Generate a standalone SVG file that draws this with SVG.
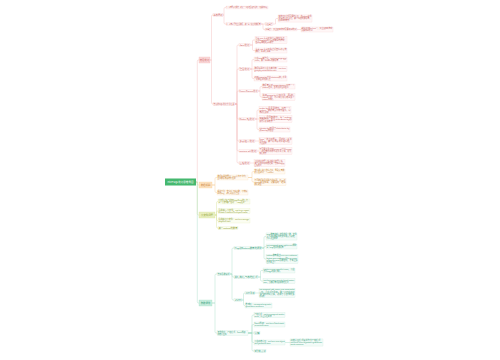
<svg xmlns="http://www.w3.org/2000/svg" width="500" height="360" viewBox="0 0 500 360">
<style>
text{font-family:"Noto Sans CJK SC","Noto Sans",sans-serif;font-size:1.8px}
.p rect{fill:#fff7f7;stroke:#f5cccc;stroke-width:.25}
.p text{fill:#c9605c}
.o rect{fill:#fffaf2;stroke:#f8dcb5;stroke-width:.25}
.o text{fill:#c98233}
.y rect{fill:#fbfdf1;stroke:#e2e9b8;stroke-width:.25}
.y text{fill:#8d9b2c}
.g rect{fill:#f3fbf8;stroke:#c2e8d8;stroke-width:.25}
.g text{fill:#34a07a}
.l1 text{font-size:2.4px;text-anchor:middle}
#n-p1 rect{fill:#fbd9d9;stroke:#efa9a9}
#n-o1 rect{fill:#fde3c2;stroke:#f4c27f}
#n-y1 rect{fill:#e9efc0;stroke:#cfd98a}
#n-g1 rect{fill:#c9eedf;stroke:#8fd3b7}
#root rect{fill:#45b86f}
#root text{fill:#fff;font-size:2.6px;text-anchor:middle}
.c path{fill:none;stroke-width:.4}
.c .cp{stroke:#f2b5b5}
.c .co{stroke:#f5c890}
.c .cy{stroke:#d5df93}
.c .cg{stroke:#9fd9c2}
</style>
<rect width="500" height="360" fill="#fff"/>
<g class="c">
<path class="cp" d="M196 182 H197.3 V61.2 Q197.3 60 198.5 60 H199"/>
<path class="co" d="M196 182 H197.3 V183.8 Q197.3 185 198.5 185 H199"/>
<path class="cy" d="M196 182 H197.3 V213.8 Q197.3 215 198.5 215 H199"/>
<path class="cg" d="M196 182 H197.3 V301.8 Q197.3 303 198.5 303 H199"/>
<path class="cp" d="M210 60 H211.5 V16.2 Q211.5 15 212.7 15 H213"/>
<path class="cp" d="M210 60 H211.5 V102.8 Q211.5 104 212.7 104 H213"/>
<path class="cp" d="M223 15 H224 V8.7 Q224 7.5 225.2 7.5 H226"/>
<path class="cp" d="M223 15 H224 V22.8 Q224 24 225.2 24 H226"/>
<path class="cp" d="M261 24 H265"/>
<path class="cp" d="M261 24 H263 V28.3 Q263 29.5 264.2 29.5 H265"/>
<path class="cp" d="M273 24 H275.5 V19.7 Q275.5 18.5 276.7 18.5 H278"/>
<path class="cp" d="M297 29.5 H301"/>
<path class="cp" d="M235 104 H237 V46.2 Q237 45 238.2 45 H239"/>
<path class="cp" d="M235 104 H237 V70.2 Q237 69 238.2 69 H239"/>
<path class="cp" d="M235 104 H237 V92.2 Q237 91 238.2 91 H239"/>
<path class="cp" d="M235 104 H237 V117.8 Q237 119 238.2 119 H239"/>
<path class="cp" d="M235 104 H237 V139.8 Q237 141 238.2 141 H239"/>
<path class="cp" d="M235 104 H237 V149.8 Q237 151 238.2 151 H239"/>
<path class="cp" d="M235 104 H237 V161.8 Q237 163 238.2 163 H239"/>
<path class="cp" d="M250 45 H252.5 V41.2 Q252.5 40 253.7 40 H255"/>
<path class="cp" d="M250 45 H252.5 V49.3 Q252.5 50.5 253.7 50.5 H255"/>
<path class="cp" d="M250 69 H252 V60.7 Q252 59.5 253.2 59.5 H254"/>
<path class="cp" d="M250 69 H254"/>
<path class="cp" d="M250 69 H252 V77.3 Q252 78.5 253.2 78.5 H254"/>
<path class="cp" d="M258 91 H260 V87.7 Q260 86.5 261.2 86.5 H262"/>
<path class="cp" d="M258 91 H260 V95.8 Q260 97 261.2 97 H262"/>
<path class="cp" d="M255 119 H257 V111.2 Q257 110 258.2 110 H259"/>
<path class="cp" d="M255 119 H259"/>
<path class="cp" d="M255 119 H257 V128.3 Q257 129.5 258.2 129.5 H259"/>
<path class="cp" d="M255 141 H259"/>
<path class="cp" d="M257 151 H259"/>
<path class="cp" d="M250 163 H254"/>
<path class="co" d="M212 185 H215 V178.7 Q215 177.5 216.2 177.5 H217"/>
<path class="co" d="M212 185 H215 V191.3 Q215 192.5 216.2 192.5 H217"/>
<path class="co" d="M248 177.5 H252 V172.7 Q252 171.5 253.2 171.5 H254"/>
<path class="co" d="M248 177.5 H252 V180.8 Q252 182 253.2 182 H254"/>
<path class="cy" d="M215 215 H216.5 V202.7 Q216.5 201.5 217.7 201.5 H218"/>
<path class="cy" d="M215 215 H216.5 V212.2 Q216.5 211 217.7 211 H218"/>
<path class="cy" d="M215 215 H216.5 V219.3 Q216.5 220.5 217.7 220.5 H218"/>
<path class="cy" d="M215 215 H216.5 V226.8 Q216.5 228 217.7 228 H218"/>
<path class="cg" d="M212 303 H215 V275.2 Q215 274 216.2 274 H217"/>
<path class="cg" d="M212 303 H215 V331.8 Q215 333 216.2 333 H217"/>
<path class="cg" d="M230 274 H232 V249.2 Q232 248 233.2 248 H234"/>
<path class="cg" d="M230 274 H232 V275.8 Q232 277 233.2 277 H234"/>
<path class="cg" d="M230 274 H232 V298.8 Q232 300 233.2 300 H234"/>
<path class="cg" d="M262 248 H264 V237.7 Q264 236.5 265.2 236.5 H266"/>
<path class="cg" d="M262 248 H264 V247.7 Q264 246.5 265.2 246.5 H266"/>
<path class="cg" d="M262 248 H264 V257.8 Q264 259 265.2 259 H266"/>
<path class="cg" d="M258 277 H260.5 V271.7 Q260.5 270.5 261.7 270.5 H263"/>
<path class="cg" d="M258 277 H260.5 V279.8 Q260.5 281 261.7 281 H263"/>
<path class="cg" d="M242 300 H243.5 V294.2 Q243.5 293 244.7 293 H245"/>
<path class="cg" d="M242 300 H243.5 V304.3 Q243.5 305.5 244.7 305.5 H245"/>
<path class="cg" d="M255 293 H259"/>
<path class="cg" d="M248 333 H252 V316.2 Q252 315 253.2 315 H254"/>
<path class="cg" d="M248 333 H252 V325.7 Q252 324.5 253.2 324.5 H254"/>
<path class="cg" d="M248 333 H254"/>
<path class="cg" d="M248 333 H252 V341.3 Q252 342.5 253.2 342.5 H254"/>
<path class="cg" d="M248 333 H252 V349.8 Q252 351 253.2 351 H254"/>
<path class="cg" d="M285 342.5 H290"/>
</g>
<g id="root"><rect x="165" y="178.5" width="31" height="7"/><text x="180.5" y="182.9" textLength="26" lengthAdjust="spacingAndGlyphs">Hive SQL优化思维导图</text></g>
<!-- pink branch -->
<g id="n-p1" class="p l1"><rect x="199" y="57" width="11" height="6"/><text x="204.5" y="60.85">常见优化</text></g>
<g id="n-p2a" class="p"><rect x="213" y="13.55" width="10" height="2.9"/><text x="213.5" y="15.6" textLength="9" lengthAdjust="spacingAndGlyphs">基本原则</text></g>
<g id="n-p3a" class="p"><rect x="226" y="6.05" width="42" height="2.9"/><text x="226.5" y="8.1" textLength="41" lengthAdjust="spacingAndGlyphs">1、尽量原子化操作，避免一个SQL包含复杂逻辑，可借助中间表</text></g>
<g id="n-p3b" class="p"><rect x="226" y="22.55" width="35" height="2.9"/><text x="226.5" y="24.6" textLength="34" lengthAdjust="spacingAndGlyphs">2、尽量尽早地过滤数据，减少每个阶段的数据量</text></g>
<g id="n-p4a" class="p"><rect x="265" y="22.55" width="8" height="2.9"/><text x="265.5" y="24.6" textLength="7" lengthAdjust="spacingAndGlyphs">分区裁剪</text></g>
<g id="n-p5a" class="p"><rect x="278" y="14.95" width="34" height="7.1"/><text x="278.5" y="17" textLength="33" lengthAdjust="spacingAndGlyphs">查询时只选择需要的分区，在where条件</text><text x="278.5" y="19.1" textLength="33" lengthAdjust="spacingAndGlyphs">中指定分区字段，减少扫描的数据量，</text><text x="278.5" y="21.2" textLength="11" lengthAdjust="spacingAndGlyphs">提高查询效率</text></g>
<g id="n-p4b" class="p"><rect x="265" y="28.05" width="32" height="2.9"/><text x="265.5" y="30.1" textLength="31" lengthAdjust="spacingAndGlyphs">列裁剪：只读取查询中需要用到的列</text></g>
<g id="n-p5b" class="p"><rect x="301" y="27" width="32" height="5"/><text x="301.5" y="29.05" textLength="31" lengthAdjust="spacingAndGlyphs">避免使用select *，只读取查询中</text><text x="301.5" y="31.15" textLength="11" lengthAdjust="spacingAndGlyphs">需要用到的列</text></g>
<g id="n-p2b" class="p"><rect x="213" y="102.55" width="22" height="2.9"/><text x="213.5" y="104.6" textLength="21" lengthAdjust="spacingAndGlyphs">常见的SQL优化方法汇总</text></g>
<g id="n-p3c" class="p"><rect x="239" y="43.55" width="11" height="2.9"/><text x="239.5" y="45.6" textLength="10" lengthAdjust="spacingAndGlyphs">Join优化</text></g>
<g id="n-p3c1" class="p"><rect x="255" y="36.45" width="32" height="7.1"/><text x="255.5" y="38.5" textLength="31" lengthAdjust="spacingAndGlyphs">小表join大表时将小表放在左边，</text><text x="255.5" y="40.6" textLength="31" lengthAdjust="spacingAndGlyphs">开启mapjoin把小表加载到内存中，</text><text x="255.5" y="42.7" textLength="18" lengthAdjust="spacingAndGlyphs">在map端完成join操作</text></g>
<g id="n-p3c2" class="p"><rect x="255" y="48" width="32" height="5"/><text x="255.5" y="50.05" textLength="31" lengthAdjust="spacingAndGlyphs">大表join大表时先过滤空值和无效</text><text x="255.5" y="52.15" textLength="15" lengthAdjust="spacingAndGlyphs">数据，再进行关联</text></g>
<g id="n-p3d" class="p"><rect x="239" y="67.55" width="11" height="2.9"/><text x="239.5" y="69.6" textLength="10" lengthAdjust="spacingAndGlyphs">聚合优化</text></g>
<g id="n-p3d1" class="p"><rect x="254" y="57" width="33" height="5"/><text x="254.5" y="59.05" textLength="32" lengthAdjust="spacingAndGlyphs">开启map端聚合：set hive.map.aggr</text><text x="254.5" y="61.15" textLength="24" lengthAdjust="spacingAndGlyphs">=true，减少shuffle的数据量</text></g>
<g id="n-p3d2" class="p"><rect x="254" y="66.5" width="33" height="5"/><text x="254.5" y="68.55" textLength="32" lengthAdjust="spacingAndGlyphs">数据倾斜时开启负载均衡：set hive.</text><text x="254.5" y="70.65" textLength="22" lengthAdjust="spacingAndGlyphs">groupby.skewindata=true</text></g>
<g id="n-p3d3" class="p"><rect x="254" y="76" width="33" height="5"/><text x="254.5" y="78.05" textLength="32" lengthAdjust="spacingAndGlyphs">使用group by代替distinct进行去重</text><text x="254.5" y="80.15" textLength="16" lengthAdjust="spacingAndGlyphs">，提高任务的并行度</text></g>
<g id="n-p3e" class="p"><rect x="239" y="89.55" width="19" height="2.9"/><text x="239.5" y="91.6" textLength="18" lengthAdjust="spacingAndGlyphs">Count Distinct优化</text></g>
<g id="n-p3e1" class="p"><rect x="262" y="84" width="33" height="5"/><text x="262.5" y="86.05" textLength="32" lengthAdjust="spacingAndGlyphs">数据量大时count distinct只有一个</text><text x="262.5" y="88.15" textLength="26" lengthAdjust="spacingAndGlyphs">reduce处理，容易造成任务阻塞</text></g>
<g id="n-p3e2" class="p"><rect x="262" y="93.45" width="33" height="7.1"/><text x="262.5" y="95.5" textLength="32" lengthAdjust="spacingAndGlyphs">先用group by分组去重，再进行</text><text x="262.5" y="97.6" textLength="32" lengthAdjust="spacingAndGlyphs">count计算，可以将计算分散到多个</text><text x="262.5" y="99.7" textLength="11" lengthAdjust="spacingAndGlyphs">reduce中执行</text></g>
<g id="n-p3f" class="p"><rect x="239" y="117.55" width="16" height="2.9"/><text x="239.5" y="119.6" textLength="15" lengthAdjust="spacingAndGlyphs">Order By优化</text></g>
<g id="n-p3f1" class="p"><rect x="259" y="106.45" width="32" height="7.1"/><text x="259.5" y="108.5" textLength="31" lengthAdjust="spacingAndGlyphs">order by是全局排序，只有一个</text><text x="259.5" y="110.6" textLength="31" lengthAdjust="spacingAndGlyphs">reduce，数据量大时效率很低，尽</text><text x="259.5" y="112.7" textLength="9" lengthAdjust="spacingAndGlyphs">量避免使用</text></g>
<g id="n-p3f2" class="p"><rect x="259" y="115.45" width="33" height="7.1"/><text x="259.5" y="117.5" textLength="32" lengthAdjust="spacingAndGlyphs">sort by是局部排序，每个reduce</text><text x="259.5" y="119.6" textLength="32" lengthAdjust="spacingAndGlyphs">内部有序，配合distribute by使</text><text x="259.5" y="121.7" textLength="13" lengthAdjust="spacingAndGlyphs">用可以提高效率</text></g>
<g id="n-p3f3" class="p"><rect x="259" y="127" width="31" height="5"/><text x="259.5" y="129.05" textLength="30" lengthAdjust="spacingAndGlyphs">cluster by相当于distribute by</text><text x="259.5" y="131.15" textLength="14" lengthAdjust="spacingAndGlyphs">和sort by的组合</text></g>
<g id="n-p3g" class="p"><rect x="239" y="139.55" width="16" height="2.9"/><text x="239.5" y="141.6" textLength="15" lengthAdjust="spacingAndGlyphs">多表插入优化</text></g>
<g id="n-p3g1" class="p"><rect x="259" y="137.45" width="33" height="7.1"/><text x="259.5" y="139.5" textLength="32" lengthAdjust="spacingAndGlyphs">from一次读取源表，同时插入多张</text><text x="259.5" y="141.6" textLength="32" lengthAdjust="spacingAndGlyphs">目标表，减少对源表的重复扫描，</text><text x="259.5" y="143.7" textLength="7" lengthAdjust="spacingAndGlyphs">节省资源</text></g>
<g id="n-p3h" class="p"><rect x="239" y="149.55" width="18" height="2.9"/><text x="239.5" y="151.6" textLength="17" lengthAdjust="spacingAndGlyphs">union all优化</text></g>
<g id="n-p3h1" class="p"><rect x="259" y="147.45" width="33" height="7.1"/><text x="259.5" y="149.5" textLength="32" lengthAdjust="spacingAndGlyphs">不需要去重时用union all代替union</text><text x="259.5" y="151.6" textLength="32" lengthAdjust="spacingAndGlyphs">，避免额外的排序和去重开销，提升</text><text x="259.5" y="153.7" textLength="7" lengthAdjust="spacingAndGlyphs">执行效率</text></g>
<g id="n-p3i" class="p"><rect x="239" y="161.55" width="11" height="2.9"/><text x="239.5" y="163.6" textLength="10" lengthAdjust="spacingAndGlyphs">压缩优化</text></g>
<g id="n-p3i1" class="p"><rect x="254" y="159.45" width="31" height="7.1"/><text x="254.5" y="161.5" textLength="30" lengthAdjust="spacingAndGlyphs">开启中间结果压缩和输出结果压缩，</text><text x="254.5" y="163.6" textLength="30" lengthAdjust="spacingAndGlyphs">减少磁盘IO和网络传输，常用snappy</text><text x="254.5" y="165.7" textLength="7" lengthAdjust="spacingAndGlyphs">压缩格式</text></g>
<!-- orange branch -->
<g id="n-o1" class="o l1"><rect x="199" y="182" width="13" height="6"/><text x="205.5" y="185.85">数据倾斜</text></g>
<g id="n-o2a" class="o"><rect x="217" y="175" width="31" height="5"/><text x="217.5" y="177.05" textLength="30" lengthAdjust="spacingAndGlyphs">数据倾斜的原因：key分布不均匀，</text><text x="217.5" y="179.15" textLength="18" lengthAdjust="spacingAndGlyphs">业务数据本身的特性等</text></g>
<g id="n-o3a" class="o"><rect x="254" y="169" width="31" height="5"/><text x="254.5" y="171.05" textLength="30" lengthAdjust="spacingAndGlyphs">空值或无意义的值过多，导致大量数</text><text x="254.5" y="173.15" textLength="19" lengthAdjust="spacingAndGlyphs">据分配到同一个reduce</text></g>
<g id="n-o3b" class="o"><rect x="254" y="178.45" width="32" height="7.1"/><text x="254.5" y="180.5" textLength="31" lengthAdjust="spacingAndGlyphs">不同数据类型关联产生倾斜，如int和</text><text x="254.5" y="182.6" textLength="31" lengthAdjust="spacingAndGlyphs">string类型关联，需要先统一转换</text><text x="254.5" y="184.7" textLength="7" lengthAdjust="spacingAndGlyphs">数据类型</text></g>
<g id="n-o2b" class="o"><rect x="217" y="190" width="31" height="5"/><text x="217.5" y="192.05" textLength="30" lengthAdjust="spacingAndGlyphs">解决方法：空值赋予随机数，打散倾</text><text x="217.5" y="194.15" textLength="22" lengthAdjust="spacingAndGlyphs">斜的key，进行两阶段聚合</text></g>
<!-- yellow branch -->
<g id="n-y1" class="y l1"><rect x="199" y="212" width="16" height="6"/><text x="207" y="215.85">小文件问题</text></g>
<g id="n-y2a" class="y"><rect x="218" y="199" width="32" height="5"/><text x="218.5" y="201.05" textLength="31" lengthAdjust="spacingAndGlyphs">小文件过多会增加NameNode的压力，</text><text x="218.5" y="203.15" textLength="26" lengthAdjust="spacingAndGlyphs">每个小文件都会启动一个map任务</text></g>
<g id="n-y2b" class="y"><rect x="218" y="208.5" width="32" height="5"/><text x="218.5" y="210.55" textLength="31" lengthAdjust="spacingAndGlyphs">合并输入小文件：set hive.input.</text><text x="218.5" y="212.65" textLength="29" lengthAdjust="spacingAndGlyphs">format=CombineHiveInputFormat</text></g>
<g id="n-y2c" class="y"><rect x="218" y="218" width="32" height="5"/><text x="218.5" y="220.05" textLength="31" lengthAdjust="spacingAndGlyphs">合并输出小文件：set hive.merge.</text><text x="218.5" y="222.15" textLength="12" lengthAdjust="spacingAndGlyphs">mapfiles=true</text></g>
<g id="n-y2d" class="y"><rect x="218" y="226.55" width="20" height="2.9"/><text x="218.5" y="228.6" textLength="19" lengthAdjust="spacingAndGlyphs">减少reduce的数量</text></g>
<!-- green branch -->
<g id="n-g1" class="g l1"><rect x="199" y="300" width="13" height="6"/><text x="205.5" y="303.85">参数调优</text></g>
<g id="n-g2a" class="g"><rect x="217" y="272.55" width="13" height="2.9"/><text x="217.5" y="274.6" textLength="12" lengthAdjust="spacingAndGlyphs">常用参数设置</text></g>
<g id="n-g3a" class="g"><rect x="234" y="246.55" width="28" height="2.9"/><text x="234.5" y="248.6" textLength="27" lengthAdjust="spacingAndGlyphs">Map和Reduce数量的调整</text></g>
<g id="n-g3a1" class="g"><rect x="266" y="232.95" width="31" height="7.1"/><text x="266.5" y="235" textLength="30" lengthAdjust="spacingAndGlyphs">map数量由输入文件的总个数、文件</text><text x="266.5" y="237.1" textLength="30" lengthAdjust="spacingAndGlyphs">大小和集群设置的文件块大小决定，</text><text x="266.5" y="239.2" textLength="11" lengthAdjust="spacingAndGlyphs">可以适当调整</text></g>
<g id="n-g3a2" class="g"><rect x="266" y="244" width="31" height="5"/><text x="266.5" y="246.05" textLength="30" lengthAdjust="spacingAndGlyphs">set mapred.max.split.size调整</text><text x="266.5" y="248.15" textLength="17" lengthAdjust="spacingAndGlyphs">每个map处理的数据量</text></g>
<g id="n-g3a3" class="g"><rect x="266" y="254.4" width="32" height="9.2"/><text x="266.5" y="256.45" textLength="31" lengthAdjust="spacingAndGlyphs">reduce数量通过hive.exec.reducers.</text><text x="266.5" y="258.55" textLength="31" lengthAdjust="spacingAndGlyphs">bytes.per.reducer和hive.exec.</text><text x="266.5" y="260.65" textLength="31" lengthAdjust="spacingAndGlyphs">reducers.max参数控制，不宜过多</text><text x="266.5" y="262.75" textLength="9" lengthAdjust="spacingAndGlyphs">也不宜过少</text></g>
<g id="n-g3b" class="g"><rect x="234" y="275.55" width="24" height="2.9"/><text x="234.5" y="277.6" textLength="23" lengthAdjust="spacingAndGlyphs">并行执行与本地模式</text></g>
<g id="n-g3b1" class="g"><rect x="263" y="268" width="32" height="5"/><text x="263.5" y="270.05" textLength="31" lengthAdjust="spacingAndGlyphs">set hive.exec.parallel=true，开启</text><text x="263.5" y="272.15" textLength="17" lengthAdjust="spacingAndGlyphs">不同stage的并行执行</text></g>
<g id="n-g3b2" class="g"><rect x="263" y="278.5" width="32" height="5"/><text x="263.5" y="280.55" textLength="31" lengthAdjust="spacingAndGlyphs">set hive.exec.mode.local.auto=</text><text x="263.5" y="282.65" textLength="25" lengthAdjust="spacingAndGlyphs">true，小数据量时使用本地模式</text></g>
<g id="n-g3c" class="g"><rect x="234" y="298.55" width="8" height="2.9"/><text x="234.5" y="300.6" textLength="7" lengthAdjust="spacingAndGlyphs">JVM</text></g>
<g id="n-g4a" class="g"><rect x="245" y="291.55" width="10" height="2.9"/><text x="245.5" y="293.6" textLength="9" lengthAdjust="spacingAndGlyphs">JVM重用</text></g>
<g id="n-g5a" class="g"><rect x="259" y="288.4" width="36" height="9.2"/><text x="259.5" y="290.45" textLength="35" lengthAdjust="spacingAndGlyphs">set mapred.job.reuse.jvm.num.tasks</text><text x="259.5" y="292.55" textLength="35" lengthAdjust="spacingAndGlyphs">=10，开启JVM重用，减少JVM启动和</text><text x="259.5" y="294.65" textLength="35" lengthAdjust="spacingAndGlyphs">销毁的时间开销，适用于小文件较多</text><text x="259.5" y="296.75" textLength="5" lengthAdjust="spacingAndGlyphs">的场景</text></g>
<g id="n-g4b" class="g"><rect x="245" y="303" width="27" height="5"/><text x="245.5" y="305.05" textLength="26" lengthAdjust="spacingAndGlyphs">推测执行：set mapred.map.tasks.</text><text x="245.5" y="307.15" textLength="18" lengthAdjust="spacingAndGlyphs">speculative.execution</text></g>
<g id="n-g2b" class="g"><rect x="217" y="330.5" width="31" height="5"/><text x="217.5" y="332.55" textLength="30" lengthAdjust="spacingAndGlyphs">其他优化：严格模式、fetch抓取、</text><text x="217.5" y="334.65" textLength="9" lengthAdjust="spacingAndGlyphs">动态分区等</text></g>
<g id="n-g3d" class="g"><rect x="254" y="312.5" width="31" height="5"/><text x="254.5" y="314.55" textLength="30" lengthAdjust="spacingAndGlyphs">严格模式：set hive.mapred.mode=</text><text x="254.5" y="316.65" textLength="17" lengthAdjust="spacingAndGlyphs">strict，防止危险查询</text></g>
<g id="n-g3e" class="g"><rect x="254" y="322" width="31" height="5"/><text x="254.5" y="324.05" textLength="30" lengthAdjust="spacingAndGlyphs">fetch抓取：set hive.fetch.task.</text><text x="254.5" y="326.15" textLength="14" lengthAdjust="spacingAndGlyphs">conversion=more</text></g>
<g id="n-g3f" class="g"><rect x="254" y="331.55" width="6" height="2.9"/><text x="254.5" y="333.6" textLength="5" lengthAdjust="spacingAndGlyphs">分桶</text></g>
<g id="n-g3g" class="g"><rect x="254" y="340" width="31" height="5"/><text x="254.5" y="342.05" textLength="30" lengthAdjust="spacingAndGlyphs">开启动态分区：set hive.exec.dyna</text><text x="254.5" y="344.15" textLength="16" lengthAdjust="spacingAndGlyphs">mic.partition=true</text></g>
<g id="n-g4g" class="g"><rect x="290" y="338.95" width="33" height="7.1"/><text x="290.5" y="341" textLength="32" lengthAdjust="spacingAndGlyphs">动态分区模式设置为非严格模式：</text><text x="290.5" y="343.1" textLength="32" lengthAdjust="spacingAndGlyphs">set hive.exec.dynamic.partition.</text><text x="290.5" y="345.2" textLength="13" lengthAdjust="spacingAndGlyphs">mode=nonstrict</text></g>
<g id="n-g3h" class="g"><rect x="254" y="349.55" width="12" height="2.9"/><text x="254.5" y="351.6" textLength="11" lengthAdjust="spacingAndGlyphs">查看执行计划</text></g>
</svg>
